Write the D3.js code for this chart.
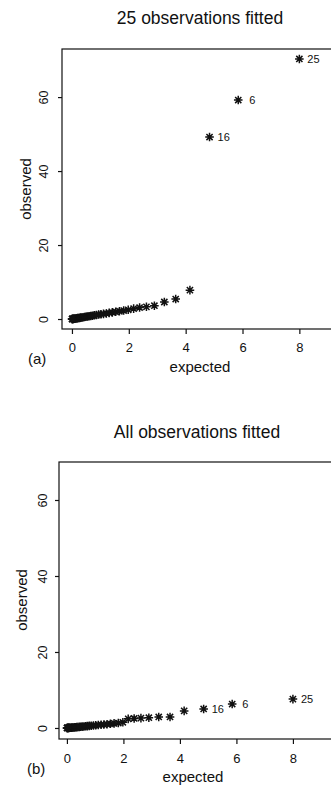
<!DOCTYPE html>
<html>
<head>
<meta charset="utf-8">
<script src="https://cdn.jsdelivr.net/npm/d3@7"></script>
<style>
  html, body { margin: 0; padding: 0; background: #fff; }
  svg { display: block; }
  text { font-family: "Liberation Sans", Arial, Helvetica, sans-serif; fill: #111; }
</style>
</head>
<body>
<svg id="chart" width="331" height="786"></svg>
<script>
// ---- data ----
const expected = [8.0, 5.85, 4.84, 4.15, 3.65, 3.25, 2.9, 2.62, 2.38, 2.17, 1.98, 1.82, 1.67, 1.54, 1.42,
  1.31, 1.21, 1.11, 1.02, 0.94, 0.86, 0.79, 0.72, 0.66, 0.60, 0.54, 0.49, 0.44, 0.39, 0.35, 0.31,
  0.27, 0.23, 0.20, 0.17, 0.14, 0.11, 0.09, 0.07, 0.05, 0.035, 0.02, 0.01, 0.003];
const observedA = [70.3, 59.2, 49.2, 7.8, 5.4, 4.6, 3.6, 3.3, 3.1, 2.8, 2.5, 2.3, 2.1, 1.95, 1.8,
  1.65, 1.5, 1.4, 1.3, 1.2, 1.1, 1.0, 0.9, 0.82, 0.75, 0.68, 0.6, 0.54, 0.48, 0.42, 0.37,
  0.32, 0.27, 0.23, 0.19, 0.15, 0.12, 0.09, 0.07, 0.05, 0.03, 0.02, 0.01, 0.0];
const observedB = [7.6, 6.3, 5.0, 4.5, 2.9, 2.9, 2.7, 2.6, 2.5, 2.4, 1.5, 1.3, 1.2, 1.1, 1.0,
  0.9, 0.85, 0.8, 0.7, 0.65, 0.6, 0.55, 0.5, 0.45, 0.4, 0.36, 0.32, 0.28, 0.25, 0.22, 0.19,
  0.16, 0.14, 0.12, 0.1, 0.08, 0.06, 0.05, 0.04, 0.03, 0.02, 0.01, 0.005, 0.0];
const labelIndex = [0, 1, 2];
const labelText = ["25", "6", "16"];
const xTicks = [0, 2, 4, 6, 8];
const yTicks = [0, 20, 40, 60];
const titles = ["25 observations fitted", "All observations fitted"];
const panelTags = ["(a)", "(b)"];

// ---- layout ----
const panels = [
  { obs: observedA, title: titles[0], tag: panelTags[0],
    xDom: [-0.35, 9.5], xRange: [62, 342], yDom: [-2.7, 73], yRange: [329, 49],
    titleX: 200, titleY: 24, xlabX: 200, xlabY: 372, ylabX: 31, ylabY: 189,
    tagX: 28, tagY: 364, yTickOff: -14, xPad: 9, labOff: [8, 11, 8] },
  { obs: observedB, title: titles[1], tag: panelTags[1],
    xDom: [-0.28, 9.5], xRange: [59, 335.3], yDom: [-2.9, 70], yRange: [739, 462],
    titleX: 197, titleY: 438, xlabX: 193, xlabY: 782, ylabX: 27, ylabY: 600,
    tagX: 27, tagY: 774, yTickOff: -12, xPad: 10, labOff: [8, 10, 8] }
];

const svg = d3.select("#chart");
const star = "M-4.3,0H4.3M0,-4.3V4.3M-3.1,-3.1L3.1,3.1M-3.1,3.1L3.1,-3.1";

panels.forEach(p => {
  const x = d3.scaleLinear().domain(p.xDom).range(p.xRange);
  const y = d3.scaleLinear().domain(p.yDom).range(p.yRange);
  const g = svg.append("g");

  // box
  g.append("rect")
    .attr("x", p.xRange[0]).attr("y", p.yRange[1])
    .attr("width", p.xRange[1] - p.xRange[0]).attr("height", p.yRange[0] - p.yRange[1])
    .attr("fill", "none").attr("stroke", "#111").attr("stroke-width", 1.2);

  // x axis
  const xa = g.append("g").attr("transform", `translate(0,${p.yRange[0]})`)
    .call(d3.axisBottom(x).tickValues(xTicks).tickSize(5).tickPadding(p.xPad).tickSizeOuter(0));
  xa.select(".domain").remove();
  xa.selectAll("line").attr("stroke", "#111").attr("stroke-width", 1.2);
  xa.selectAll("text").attr("font-size", 13).attr("fill", "#111")
    .style("font-family", '"Liberation Sans", Arial, sans-serif');

  // y axis
  const ya = g.append("g").attr("transform", `translate(${p.xRange[0]},0)`)
    .call(d3.axisLeft(y).tickValues(yTicks).tickSize(4).tickSizeOuter(0));
  ya.select(".domain").remove();
  ya.selectAll("line").attr("stroke", "#111").attr("stroke-width", 1.2);
  ya.selectAll("text")
    .attr("transform", "rotate(-90)")
    .attr("x", 0).attr("y", p.yTickOff).attr("dy", null)
    .attr("text-anchor", "middle")
    .attr("font-size", 12.5).attr("fill", "#111")
    .style("font-family", '"Liberation Sans", Arial, sans-serif');

  // points
  g.append("g").selectAll("path").data(expected).join("path")
    .attr("transform", (d, i) => `translate(${x(d)},${y(p.obs[i])})`)
    .attr("d", star).attr("stroke", "#111").attr("stroke-width", 1.5).attr("fill", "none");

  // point labels
  labelIndex.forEach((idx, k) => {
    g.append("text")
      .attr("x", x(expected[idx]) + p.labOff[k])
      .attr("y", y(p.obs[idx]) + 4)
      .attr("font-size", 11)
      .text(labelText[k]);
  });

  // titles / labels
  g.append("text").attr("x", p.titleX).attr("y", p.titleY)
    .attr("text-anchor", "middle").attr("font-size", 17.5).text(p.title);
  g.append("text").attr("x", p.xlabX).attr("y", p.xlabY)
    .attr("text-anchor", "middle").attr("font-size", 15).text("expected");
  g.append("text").attr("transform", `translate(${p.ylabX},${p.ylabY}) rotate(-90)`)
    .attr("text-anchor", "middle").attr("font-size", 15).text("observed");
  g.append("text").attr("x", p.tagX).attr("y", p.tagY)
    .attr("font-size", 15).text(p.tag);
});
</script>
</body>
</html>
